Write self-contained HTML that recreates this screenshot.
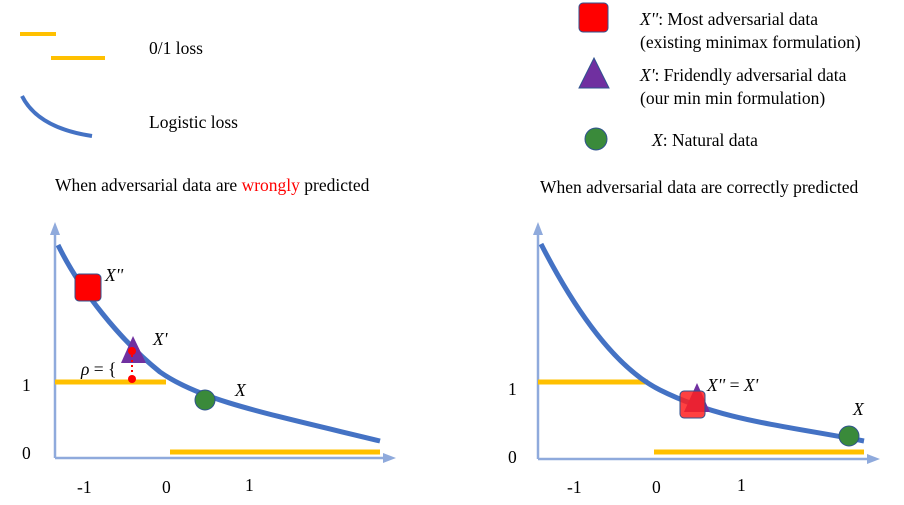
<!DOCTYPE html><html><head><style>body{margin:0;background:#fff}svg{display:block}text{font-family:"Liberation Serif",serif;font-size:17.5px;fill:#000}.i{font-style:italic}</style></head><body>
<svg width="904" height="505" viewBox="0 0 904 505">
<defs><marker id="a" markerUnits="userSpaceOnUse" markerWidth="14" markerHeight="12" refX="7" refY="6" orient="auto"><path d="M0,1 L13,6 L0,11 Z" fill="#8faadc"/></marker></defs>
<line x1="20" y1="34" x2="56" y2="34" stroke="#ffc000" stroke-width="4"/>
<line x1="51" y1="58" x2="105" y2="58" stroke="#ffc000" stroke-width="4"/>
<path d="M22,96 Q38,128 92,136" stroke="#4472c4" stroke-width="4" fill="none"/>
<text x="149" y="54">0/1 loss</text><text x="149" y="128">Logistic loss</text>
<rect x="579" y="3" width="29" height="29" rx="4" fill="#ff0000" stroke="#2f528f"/>
<polygon points="594,58 609,88 579,88" fill="#7030a0" stroke="#2f528f"/>
<circle cx="596" cy="139" r="11" fill="#3a8a3a" stroke="#2f528f"/>
<text x="640" y="25"><tspan class="i">X''</tspan>: Most adversarial data</text>
<text x="640" y="48">(existing minimax formulation)</text>
<text x="640" y="81"><tspan class="i">X'</tspan>: Fridendly adversarial data</text>
<text x="640" y="104">(our min min formulation)</text>
<text x="652" y="146"><tspan class="i">X</tspan>: Natural data</text>
<text x="55" y="191">When adversarial data are <tspan style="fill:#ff0000">wrongly</tspan> predicted</text>
<text x="540" y="193">When adversarial data are correctly predicted</text>
<!-- left -->
<line x1="55" y1="458" x2="55" y2="228" stroke="#8faadc" stroke-width="2.5" marker-end="url(#a)"/>
<line x1="55" y1="458" x2="390" y2="458" stroke="#8faadc" stroke-width="2.5" marker-end="url(#a)"/>
<line x1="55" y1="382" x2="166" y2="382" stroke="#ffc000" stroke-width="5"/>
<line x1="170" y1="452" x2="380" y2="452" stroke="#ffc000" stroke-width="5"/>
<path d="M58,245 C80,290 120,340 160,372 C200,400 260,412 380,441" stroke="#4472c4" stroke-width="5" fill="none"/>
<rect x="75" y="274" width="26" height="27" rx="4" fill="#ff0000" stroke="#2f528f"/>
<polygon points="133,336 146,363 121,363" fill="#7030a0"/>
<circle cx="132" cy="351" r="4" fill="#ff0000"/><circle cx="132" cy="379" r="4" fill="#ff0000"/>
<line x1="132" y1="355" x2="132" y2="375" stroke="#ff0000" stroke-width="2" stroke-dasharray="2,3"/>
<circle cx="205" cy="400" r="10" fill="#3a8a3a" stroke="#2f528f"/>
<text x="105" y="281" class="i">X''</text><text x="153" y="345" class="i">X'</text><text x="235" y="396" class="i">X</text>
<text x="81" y="375"><tspan class="i">ρ</tspan> = {</text>
<text x="22" y="391">1</text><text x="22" y="459">0</text>
<text x="77" y="493">-1</text><text x="162" y="493">0</text><text x="245" y="491">1</text>
<!-- right -->
<line x1="538" y1="459" x2="538" y2="228" stroke="#8faadc" stroke-width="2.5" marker-end="url(#a)"/>
<line x1="538" y1="459" x2="874" y2="459" stroke="#8faadc" stroke-width="2.5" marker-end="url(#a)"/>
<line x1="538" y1="382" x2="648" y2="382" stroke="#ffc000" stroke-width="5"/>
<line x1="654" y1="452" x2="864" y2="452" stroke="#ffc000" stroke-width="5"/>
<path d="M541,244 C580,320 620,370 660,390 C720,420 780,425 864,441" stroke="#4472c4" stroke-width="5" fill="none"/>
<polygon points="697,383 710,412 684,412" fill="#7030a0"/>
<rect x="680" y="391" width="25" height="27" rx="4" fill="#ff2020" fill-opacity="0.85" stroke="#2f528f"/>
<circle cx="849" cy="436" r="10" fill="#3a8a3a" stroke="#2f528f"/>
<text x="707" y="391"><tspan class="i">X''</tspan> = <tspan class="i">X'</tspan></text><text x="853" y="415" class="i">X</text>
<text x="508" y="395">1</text><text x="508" y="463">0</text>
<text x="567" y="493">-1</text><text x="652" y="493">0</text><text x="737" y="491">1</text>
</svg></body></html>
